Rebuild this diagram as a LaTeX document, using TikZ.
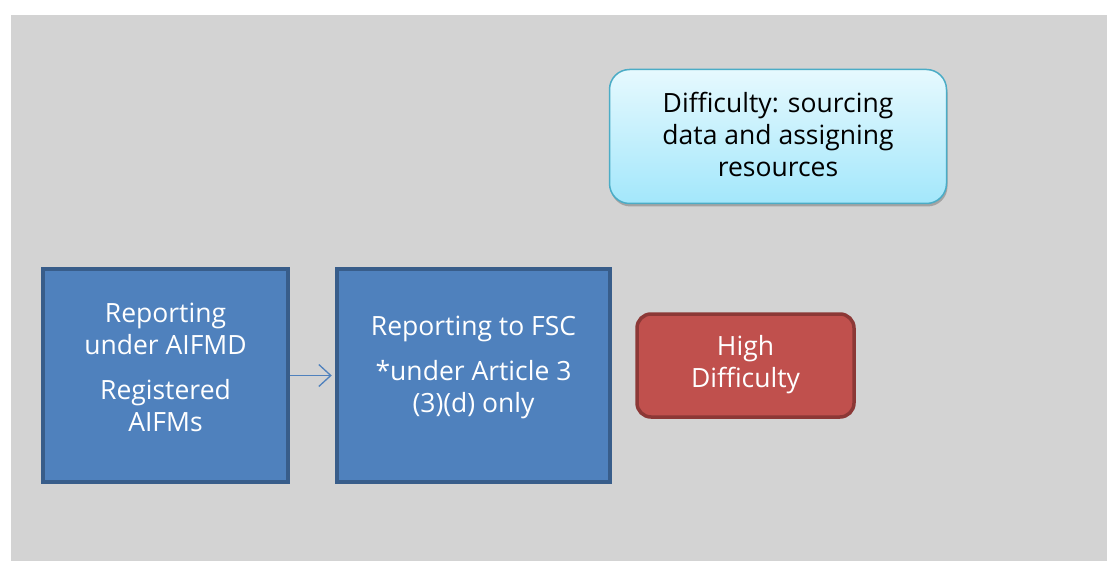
\documentclass[tikz,border=0pt]{standalone}
\usepackage{fontspec}
\setmainfont{Open Sans}
\usetikzlibrary{shadows,arrows.meta}
\definecolor{bg}{HTML}{D3D3D3}
\definecolor{bluefill}{HTML}{4F81BD}
\definecolor{blueline}{HTML}{385D8A}
\definecolor{redfill}{HTML}{C0504D}
\definecolor{redline}{HTML}{8C3836}
\definecolor{cyantop}{HTML}{E6F9FE}
\definecolor{cyanbot}{HTML}{A3E7FB}
\definecolor{cyanline}{HTML}{4BACC6}
\tikzset{
  txt/.style={align=center, font=\fontsize{26.5}{32}\selectfont, inner sep=0pt},
  bluebox/.style={draw=blueline, line width=4.5pt, fill=bluefill, inner sep=0pt},
  redbox/.style={draw=redline, line width=3.5pt, fill=redfill,
    rounded corners=14pt, inner sep=0pt},
  cyanbox/.style={draw=cyanline, line width=1.5pt, top color=cyantop, bottom color=cyanbot,
    rounded corners=20pt, inner sep=0pt,
    drop shadow={shadow xshift=1pt, shadow yshift=-3pt, opacity=0.35, fill=black!70}},
  conn/.style={draw=bluefill, line width=1.3pt, arrows={-Straight Barb[length=12pt,width=22pt]}}
}
\begin{document}
\begin{tikzpicture}[x=1pt,y=-1pt]
\useasboundingbox (0,0) rectangle (1107,561);
\fill[white] (0,0) rectangle (1107,561);
\fill[bg] (11,15) rectangle (1107,561);
% boxes
\node[bluebox, minimum width=245pt, minimum height=213pt] (a) at (165.5,375.5) {};
\node[txt, text=white] (at) at (165.5,367)
  {Reporting\\under AIFMD\\[13pt]Registered\\AIFMs};
\node[bluebox, minimum width=273pt, minimum height=213pt] (b) at (473.5,375.5) {};
\node[txt, text=white] (bt) at (473.5,367)
  {Reporting to FSC\\[13pt]*under Article 3\\(3)(d) only};
\node[redbox, minimum width=217pt, minimum height=103pt] (r) at (745.5,365.5) {};
\node[txt, text=white] (rt) at (745.5,365)
  {High\\Difficulty};
\node[cyanbox, minimum width=337pt, minimum height=134pt] (c) at (778,136.5) {};
\node[txt, text=black] (ct) at (778,134)
  {Difficulty: sourcing\\data and assigning\\resources};
\draw[conn] (a.east) -- ([xshift=-3pt]b.west);
\end{tikzpicture}
\end{document}
